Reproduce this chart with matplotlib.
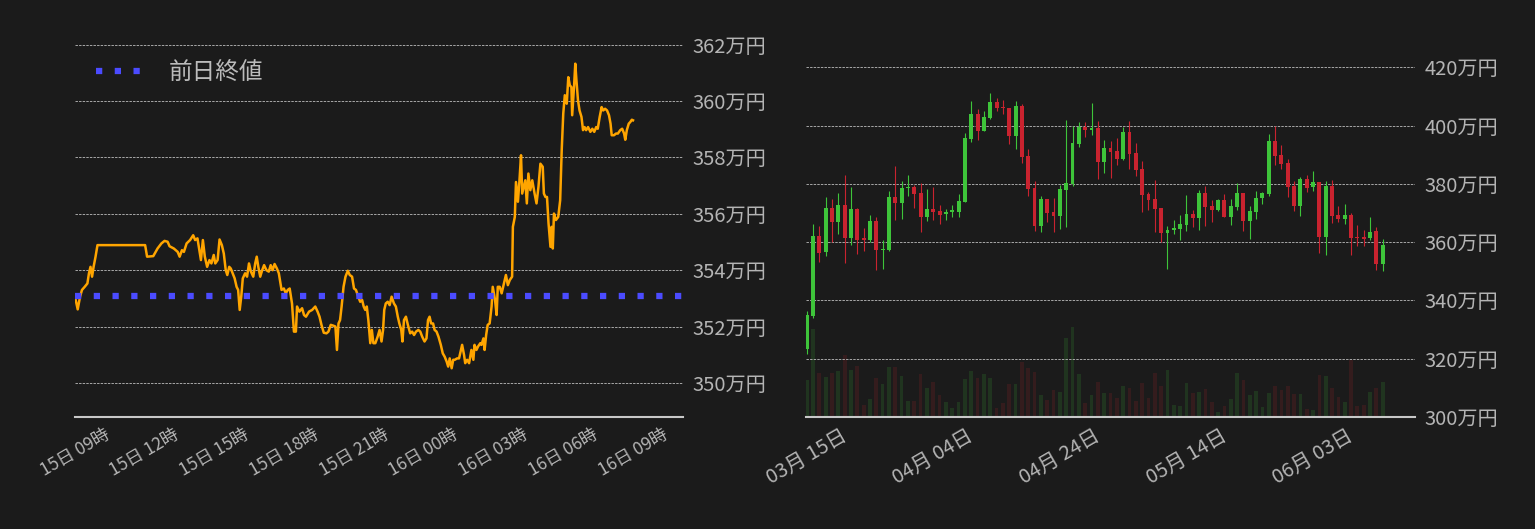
"""
Intraday price (24h line vs previous close) + daily candlestick chart with volume.
"""

from datetime import datetime, timedelta

import matplotlib
matplotlib.use("Agg")
import matplotlib.dates as mdates
import matplotlib.pyplot as plt
import matplotlib.ticker as mticker

FONT = ["Noto Sans CJK JP", "DejaVu Sans"]

BG = "#1b1b1b"
TEXT = "#b4b4b4"
GRID = "#a8a8a8"
SPINE = "#c8c8c8"
LINE_COLOR = "#ffa500"
PREV_COLOR = "#4b4bff"
UP = "#3ec43a"
DOWN = "#c9232f"

# -- intraday series: minutes after 15日 09:00, price in 万円 -------------------
INTRA_MIN = [
    0, 7, 13, 18, 25, 32, 36, 40, 44, 48, 53, 58, 181, 186, 202, 213, 223, 231,
    239, 244, 255, 265, 270, 276, 281, 288, 297, 305, 310, 316, 321, 325, 330,
    335, 341, 347, 352, 358, 362, 368, 373, 379, 384, 389, 393, 398, 402, 407,
    412, 417, 421, 425, 429, 433, 439, 444, 449, 454, 460, 465, 469, 473, 478,
    483, 488, 494, 500, 505, 510, 515, 521, 526, 533, 539, 544, 549, 554, 560,
    565, 570, 573, 579, 586, 591, 596, 604, 612, 620, 626, 631, 636, 642, 649,
    654, 660, 667, 672, 676, 680, 684, 688, 693, 698, 704, 709, 715, 720, 725,
    731, 736, 741, 745, 749, 753, 757, 762, 766, 770, 775, 781, 786, 791, 795,
    798, 802, 807, 812, 817, 823, 828, 833, 837, 842, 845, 849, 854, 859, 865,
    870, 875, 880, 886, 891, 896, 902, 907, 911, 915, 919, 924, 928, 933, 938,
    944, 949, 954, 959, 963, 967, 972, 976, 980, 986, 991, 996, 999, 1004,
    1007, 1012, 1017, 1023, 1028, 1031, 1036, 1040, 1046, 1049, 1054, 1057,
    1061, 1065, 1070, 1075, 1078, 1084, 1088, 1091, 1096, 1101, 1107, 1112,
    1117, 1122, 1128, 1130, 1135, 1138, 1143, 1147, 1151, 1154, 1158, 1162,
    1166, 1170, 1175, 1180, 1186, 1191, 1196, 1201, 1207, 1210, 1214, 1218,
    1222, 1227, 1230, 1233, 1236, 1241, 1247, 1252, 1256, 1260, 1264, 1269,
    1273, 1277, 1281, 1283, 1288, 1291, 1294, 1298, 1302, 1307, 1311, 1315,
    1319, 1324, 1330, 1335, 1340, 1345, 1349, 1354, 1359, 1363, 1368, 1373,
    1378, 1382, 1385, 1391, 1396, 1401, 1407, 1412, 1417, 1420, 1424, 1429,
    1433, 1437, 1440,
]
INTRA_PRICE = [
    353.06, 352.61, 353.06, 353.30, 353.41, 353.53, 353.89, 354.12, 353.77,
    354.12, 354.48, 354.89, 354.89, 354.48, 354.50, 354.77, 354.95, 355.04,
    355.01, 354.85, 354.77, 354.65, 354.48, 354.71, 354.65, 354.95, 355.07,
    355.24, 355.07, 355.13, 354.71, 354.36, 355.07, 354.48, 354.12, 354.36,
    354.24, 354.54, 354.24, 354.36, 355.09, 354.89, 354.59, 354.00, 353.83,
    354.12, 354.06, 353.89, 353.71, 353.41, 353.30, 352.59, 353.06, 353.71,
    353.89, 353.77, 354.24, 353.95, 353.77, 354.24, 354.48, 354.12, 353.77,
    354.00, 354.18, 354.00, 353.95, 354.18, 354.00, 354.22, 354.06, 353.89,
    353.30, 353.35, 353.18, 353.30, 353.35, 352.82, 351.82, 351.82, 352.71,
    352.53, 352.65, 352.41, 352.35, 352.53, 352.59, 352.71, 352.53, 352.35,
    352.06, 351.78, 351.76, 351.82, 352.06, 352.03, 352.00, 351.17, 352.11,
    352.23, 352.71, 353.41, 353.77, 353.98, 353.83, 353.77, 353.35, 353.30,
    353.06, 352.88, 352.94, 352.71, 352.59, 352.71, 352.23, 351.41, 351.88,
    351.41, 351.41, 351.64, 351.88, 351.47, 351.88, 352.59, 352.82, 352.88,
    352.76, 353.06, 352.82, 352.71, 352.35, 352.11, 351.88, 351.47, 352.23,
    352.35, 352.06, 351.76, 351.82, 351.70, 351.82, 351.88, 351.82, 351.64,
    351.47, 351.58, 352.23, 352.35, 352.11, 352.11, 351.88, 351.82, 351.64,
    351.35, 351.05, 350.93, 350.76, 350.58, 350.87, 350.52, 350.82, 350.82,
    350.87, 350.87, 351.17, 351.35, 350.99, 350.70, 350.82, 350.70, 351.17,
    350.82, 351.35, 351.17, 351.29, 351.41, 351.35, 351.58, 351.17, 351.70,
    352.06, 352.11, 352.71, 353.41, 352.94, 352.41, 353.41, 353.41, 353.18,
    353.53, 353.83, 353.47, 353.65, 353.77, 355.54, 355.89, 357.13, 356.43,
    357.19, 358.08, 356.72, 356.96, 357.19, 356.37, 357.43, 356.84, 357.19,
    356.72, 356.37, 356.96, 357.78, 357.67, 356.72, 356.60, 356.60, 355.66,
    354.83, 355.54, 354.77, 356.01, 355.78, 355.89, 356.48, 358.26, 359.56,
    360.21, 359.91, 360.85, 360.56, 360.50, 359.50, 360.56, 361.33, 360.74,
    360.03, 359.67, 359.44, 358.97, 359.08, 358.97, 359.08, 358.91, 359.02,
    358.91, 359.08, 359.02, 359.44, 359.79, 359.67, 359.73, 359.67, 359.50,
    359.20, 358.79, 358.79, 358.85, 358.85, 358.97, 359.02, 358.85, 358.63,
    358.97, 359.20, 359.26, 359.34, 359.32,
]
PREV_CLOSE = 353.1
INTRA_START = datetime(2024, 6, 15, 9, 0)

# -- daily candles from 03/15 (万円) ------------------------------------------
DAY_START = datetime(2024, 3, 15)
OPEN = [
    323.5, 334.6, 362.0, 356.5, 371.8, 367.1, 372.8, 361.3, 371.5, 361.3,
    360.6, 367.4, 357.2, 357.4, 375.6, 373.5, 378.7, 379.1, 377.0, 368.7,
    371.5, 370.8, 369.8, 370.4, 370.4, 373.9, 395.5, 404.0, 398.2, 402.6,
    408.1, 406.4, 406.1, 396.5, 406.8, 389.6, 378.7, 365.7, 374.9, 370.4,
    369.1, 378.0, 380.0, 393.7, 399.6, 398.5, 399.2, 387.6, 392.4, 391.3,
    388.6, 397.8, 390.7, 385.2, 376.6, 374.9, 371.8, 363.3, 364.3, 364.6,
    366.0, 369.8, 368.4, 377.0, 372.5, 371.1, 374.6, 368.7, 372.2, 377.0,
    367.4, 370.4, 375.2, 376.6, 394.8, 390.0, 387.2, 379.4, 372.5, 381.8,
    379.0, 380.7, 361.9, 379.4, 369.4, 368.0, 369.4, 361.9, 361.9, 361.5,
    363.9, 352.6,
]
HIGH = [
    336.5, 366.4, 365.7, 375.6, 374.9, 376.8, 383.1, 379.0, 371.8, 365.0,
    369.4, 368.7, 360.9, 377.6, 386.2, 381.1, 383.1, 379.8, 380.3, 378.3,
    379.0, 372.8, 371.5, 372.8, 376.6, 397.5, 408.5, 405.7, 405.0, 411.2,
    409.5, 408.8, 406.1, 408.5, 407.4, 392.0, 381.1, 375.9, 374.9, 375.2,
    379.7, 402.0, 399.9, 401.3, 401.3, 407.8, 401.6, 395.1, 394.8, 395.8,
    399.6, 401.6, 394.1, 387.9, 377.3, 381.4, 371.8, 365.7, 367.6, 369.4,
    376.3, 371.1, 378.0, 379.4, 374.6, 374.9, 376.6, 374.9, 380.4, 377.0,
    372.5, 377.6, 377.3, 397.2, 399.9, 393.4, 388.6, 381.1, 382.5, 383.1,
    384.5, 380.7, 381.1, 381.4, 372.5, 373.2, 370.1, 366.0, 364.3, 368.7,
    365.3, 361.2,
]
LOW = [
    321.5, 333.9, 353.1, 355.1, 360.2, 362.7, 352.7, 358.9, 355.8, 356.9,
    360.2, 350.3, 350.7, 357.0, 367.5, 367.8, 376.0, 371.8, 363.4, 367.4,
    367.7, 366.3, 367.7, 368.7, 368.7, 373.9, 394.4, 395.1, 398.2, 402.3,
    405.0, 404.0, 393.7, 392.0, 387.2, 375.9, 363.9, 363.6, 367.0, 363.6,
    364.6, 365.3, 379.4, 392.7, 396.1, 396.8, 381.8, 383.8, 382.1, 386.6,
    388.3, 385.2, 382.8, 370.4, 371.1, 363.6, 360.2, 350.9, 362.9, 360.9,
    363.9, 365.3, 364.3, 365.7, 367.0, 370.8, 368.7, 366.0, 371.1, 364.0,
    361.2, 368.0, 373.2, 375.9, 386.6, 385.2, 375.6, 370.8, 369.1, 377.3,
    377.6, 356.4, 355.7, 366.7, 367.0, 366.3, 355.7, 358.8, 358.8, 360.9,
    350.6, 350.0,
]
CLOSE = [
    334.9, 362.0, 356.2, 371.8, 367.1, 372.8, 361.3, 371.5, 360.6, 360.6,
    367.4, 357.2, 357.8, 375.6, 373.5, 378.7, 379.1, 376.6, 368.7, 371.5,
    370.4, 369.4, 370.4, 371.0, 374.2, 395.8, 404.0, 398.2, 403.0, 408.1,
    406.1, 406.1, 396.5, 406.8, 389.3, 378.3, 365.7, 374.9, 370.1, 369.1,
    378.3, 380.4, 394.1, 399.6, 398.5, 399.2, 387.6, 392.4, 391.0, 388.6,
    397.8, 390.3, 384.8, 376.3, 374.6, 371.5, 363.3, 364.3, 364.6, 366.3,
    369.8, 368.4, 377.0, 372.2, 371.1, 374.6, 368.7, 372.5, 377.0, 367.4,
    370.8, 375.2, 377.0, 394.8, 389.6, 386.9, 379.0, 372.5, 381.8, 378.7,
    380.7, 361.9, 379.4, 369.1, 368.0, 369.4, 361.5, 361.5, 361.2, 363.6,
    352.6, 359.1,
]
VOLUME = [
    110, 263, 131, 119, 131, 137, 185, 140, 152, 35, 53, 116, 98, 149, 149,
    122, 47, 47, 128, 86, 104, 65, 44, 26, 44, 113, 137, 116, 128, 116, 26,
    41, 98, 98, 164, 146, 134, 65, 50, 80, 74, 236, 269, 128, 41, 65, 104,
    71, 71, 56, 92, 86, 47, 101, 56, 131, 92, 140, 35, 32, 101, 71, 74, 83,
    44, 14, 32, 53, 131, 110, 65, 77, 29, 71, 92, 80, 92, 68, 68, 23, 20,
    125, 122, 86, 59, 44, 172, 32, 35, 74, 86, 104,
]

LEFT_YTICKS = [350, 352, 354, 356, 358, 360, 362]
RIGHT_YTICKS = [300, 320, 340, 360, 380, 400, 420]


def man_yen(v, _pos=None):
    return f"{v:.0f}万円"


def style_axis(ax, ytick_size):
    ax.set_facecolor(BG)
    for side in ("top", "left", "right"):
        ax.spines[side].set_visible(False)
    ax.spines["bottom"].set_color(SPINE)
    ax.spines["bottom"].set_linewidth(1.5)
    ax.yaxis.tick_right()
    ax.yaxis.set_major_formatter(mticker.FuncFormatter(man_yen))
    ax.tick_params(axis="both", length=0, colors=TEXT)
    ax.tick_params(axis="y", pad=7, labelsize=ytick_size)
    ax.grid(axis="y", color=GRID, linewidth=0.7, linestyle=(0, (2.5, 1.2)))
    ax.grid(axis="x", visible=False)
    for lab in ax.get_yticklabels():
        lab.set_family(FONT)


def plot_intraday(ax):
    times = [INTRA_START + timedelta(minutes=m) for m in INTRA_MIN]
    ax.plot(times, INTRA_PRICE, color=LINE_COLOR, linewidth=1.8, zorder=2)
    ax.axhline(PREV_CLOSE, color=PREV_COLOR, linewidth=4.5,
               linestyle=(0, (1, 2)), label="前日終値", zorder=3)

    ax.set_xlim(INTRA_START, INTRA_START + timedelta(hours=26.15))
    ax.set_ylim(348.79, 362.17)
    ax.set_yticks(LEFT_YTICKS)
    style_axis(ax, 14.5)

    ax.xaxis.set_major_locator(mdates.HourLocator(byhour=range(0, 24, 3)))
    ax.xaxis.set_major_formatter(mdates.DateFormatter("%d日 %H時"))
    ax.tick_params(axis="x", pad=6)
    for lab in ax.get_xticklabels():
        lab.set_family(FONT)
        lab.set_fontsize(12.5)
        lab.set_rotation(30)
        lab.set_ha("center")

    ax.legend(loc="upper left", frameon=False, handlelength=1.86,
              handletextpad=1.2, labelcolor="#bbbbbb",
              prop={"family": FONT, "size": 17})


def plot_candles(ax):
    dates = [DAY_START + timedelta(days=i) for i in range(len(OPEN))]
    colors = [UP if c >= o else DOWN for o, c in zip(OPEN, CLOSE)]
    bottoms = [min(o, c) for o, c in zip(OPEN, CLOSE)]
    heights = [max(abs(c - o), 0.4) for o, c in zip(OPEN, CLOSE)]

    # volume behind the candles, on its own scale
    vax = ax.twinx()
    vax.bar(dates, VOLUME, width=0.6, color=colors, alpha=0.15, linewidth=0)
    vax.set_ylim(0, 1132)
    vax.set_yticks([])
    for side in vax.spines:
        vax.spines[side].set_visible(False)
    ax.set_zorder(vax.get_zorder() + 1)
    ax.patch.set_visible(False)
    vax.set_facecolor(BG)

    ax.vlines(dates, LOW, HIGH, colors=colors, linewidth=0.8, zorder=2)
    ax.bar(dates, heights, bottom=bottoms, width=0.62, color=colors,
           linewidth=0, zorder=3)

    ax.set_xlim(DAY_START - timedelta(days=0.1),
                DAY_START + timedelta(days=96.1))
    ax.set_ylim(300, 429.4)
    ax.set_yticks(RIGHT_YTICKS)
    style_axis(ax, 14.5)
    ax.patch.set_visible(False)

    ax.set_xticks([DAY_START + timedelta(days=20 * k) for k in range(5)])
    ax.xaxis.set_major_formatter(mdates.DateFormatter("%m月 %d日"))
    ax.tick_params(axis="x", pad=6)
    for lab in ax.get_xticklabels():
        lab.set_family(FONT)
        lab.set_fontsize(14.5)
        lab.set_rotation(30)
        lab.set_ha("center")


def main():
    plt.rcParams["font.family"] = FONT
    fig = plt.figure(figsize=(15.35, 5.29), dpi=100, facecolor=BG)

    ax_left = fig.add_axes([75 / 1535, 112 / 529, 608 / 1535, 377 / 529])
    ax_right = fig.add_axes([806 / 1535, 112 / 529, 609 / 1535, 377 / 529])

    plot_intraday(ax_left)
    plot_candles(ax_right)

    fig.savefig("out.png", dpi=100, facecolor=BG)
    plt.close(fig)


if __name__ == "__main__":
    main()
